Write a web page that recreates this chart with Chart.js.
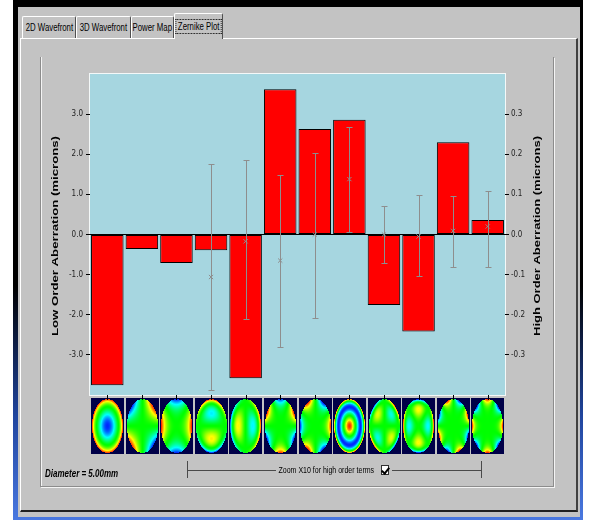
<!DOCTYPE html>
<html><head><meta charset="utf-8">
<script src="https://cdn.jsdelivr.net/npm/chart.js@4.4.1/dist/chart.umd.min.js"></script>
<style>
html,body{margin:0;padding:0;background:#fff;width:592px;height:523px;overflow:hidden;font-family:Arial,"Liberation Sans",sans-serif;}
.abs{position:absolute;box-sizing:border-box;}
#frame{left:13px;top:0;width:570px;height:520px;background:linear-gradient(#000 0%,#000 55%,#20459e 80%,#4a78e0 100%);}
#win{left:18px;top:7px;width:562px;height:510px;background:#c3c3c3;}
#panel{left:20px;top:38px;width:558px;height:474px;background:#c3c3c3;border-top:1px solid #fff;border-left:1px solid #fff;border-right:2px solid #404040;border-bottom:2px solid #202020;}
#group{left:40px;top:57px;width:514px;height:430px;border-left:1px solid #8c8c8c;border-right:1px solid #8c8c8c;border-bottom:1px solid #8c8c8c;box-shadow:1px 1px 0 #f4f4f4, inset 1px 0 0 #f4f4f4;}
.tab{top:16px;height:22px;background:#c3c3c3;border-top:1px solid #fff;border-left:1px solid #fff;border-right:1px solid #505050;border-radius:2px 2px 0 0;display:flex;justify-content:center;align-items:center;font-size:10px;color:#000;}
.tab span{display:inline-block;transform:scaleX(.78);white-space:nowrap;}
#sel{top:13px;height:26px;z-index:3;}
#sel span{outline:1px dotted #000;padding:1px 2px;}
.txt{z-index:6;white-space:nowrap;}
#diam{left:45px;top:468px;font:italic bold 10px Arial,"Liberation Sans",sans-serif;line-height:12px;transform:scaleX(.8);transform-origin:left center;}
#zoomtxt{left:226px;top:464px;width:200px;height:12px;display:flex;justify-content:center;align-items:center;font-size:9px;}
#zoomtxt span{display:inline-block;transform:scaleX(.78);}
.hl{height:1px;background:#4a4a4a;top:470px;z-index:6;}
.vl{width:1px;background:#4a4a4a;top:461px;height:17px;z-index:6;}
#chk{left:381px;top:465px;width:8px;height:10px;background:#fff;border:1px solid #303030;z-index:6;}
#chk i{position:absolute;left:1px;top:0px;width:3px;height:6px;border-right:2px solid #000;border-bottom:2px solid #000;transform:rotate(40deg);}
canvas{position:absolute;left:0;top:0;z-index:5;}
</style></head>
<body>
<div id="frame" class="abs"></div>
<div id="win" class="abs"></div>
<div id="panel" class="abs"></div>
<div id="group" class="abs"></div>
<div class="abs tab" style="left:22px;width:54px"><span>2D Wavefront</span></div>
<div class="abs tab" style="left:76px;width:55px"><span>3D Wavefront</span></div>
<div class="abs tab" style="left:131px;width:43px"><span>Power Map</span></div>
<div class="abs tab" id="sel" style="left:174px;width:49px"><span>Zernike Plot</span></div>
<div id="diam" class="abs txt">Diameter = 5.00mm</div>
<div id="zoomtxt" class="abs txt"><span>Zoom X10 for high order terms</span></div>
<div class="abs hl" style="left:187px;width:89px"></div>
<div class="abs hl" style="left:392px;width:90px"></div>
<div class="abs vl" style="left:187px"></div>
<div class="abs vl" style="left:481px"></div>
<div id="chk" class="abs"><i></i></div>
<canvas id="c" width="592" height="523"></canvas>
<script>
// ---- data ----
const categories = ['Z(2,0)','Z(2,-2)','Z(2,2)','Z(3,-1)','Z(3,1)','Z(3,-3)','Z(3,3)','Z(4,0)','Z(4,-2)','Z(4,2)','Z(4,-4)','Z(4,4)'];
const radialOrder = [2,2,2,3,3,3,3,4,4,4,4,4];
const azimuthalFreq = [0,-2,2,-1,1,-3,3,0,-2,2,-4,4];
const aberrationValues = [-3.76,-0.36,-0.71,-0.39,-3.58,3.62,2.63,2.86,-1.76,-2.42,2.30,0.36];
const highOrderMean = [null,null,null,-0.106,-0.017,-0.065,0.0,0.138,0.0,-0.005,0.009,0.02];
const highOrderLow  = [null,null,null,-0.388,-0.211,-0.281,-0.208,0.005,-0.071,-0.104,-0.081,-0.081];
const highOrderHigh = [null,null,null,0.175,0.186,0.149,0.202,0.269,0.072,0.099,0.096,0.109];
const lowTickValues = [-3,-2,-1,0,1,2,3];
const lowTickLabels = ['-3.0','-2.0','-1.0','0.0','1.0','2.0','3.0'];
const highTickValues = [-0.3,-0.2,-0.1,0,0.1,0.2,0.3];
const highTickLabels = ['-0.3','-0.2','-0.1','0.0','0.1','0.2','0.3'];
const leftTitle = 'Low Order Aberration (microns)';
const rightTitle = 'High Order Aberration (microns)';

// ---- helpers ----
function fact(n){let f=1;for(let i=2;i<=n;i++)f*=i;return f;}
function zernike(n,m,r,th){
  const am=Math.abs(m);let R=0;
  for(let k=0;k<=(n-am)/2;k++){
    R+=(k%2?-1:1)*fact(n-k)/(fact(k)*fact((n+am)/2-k)*fact((n-am)/2-k))*Math.pow(r,n-2*k);
  }
  return R*(m>=0?Math.cos(am*th):Math.sin(am*th));
}
function rainbow(t){
  t=Math.max(0,Math.min(1,t));let r,g,b;
  if(t<0.25){r=0;g=t/0.25;b=1;}
  else if(t<0.5){r=0;g=1;b=1-(t-0.25)/0.25;}
  else if(t<0.75){r=(t-0.5)/0.25;g=1;b=0;}
  else{r=1;g=1-(t-0.75)/0.25;b=0;}
  return [r*255,g*255,b*255];
}
function makeThumb(n,m,w,h){
  const cv=document.createElement('canvas');cv.width=w;cv.height=h;
  const c=cv.getContext('2d');const img=c.createImageData(w,h);
  const ex=(w-2)/2, ey=(h-2)/2, cx=w/2, cy=h/2;
  const vals=new Array(w*h).fill(null);let mn=Infinity,mx=-Infinity;
  for(let py=0;py<h;py++)for(let px=0;px<w;px++){
    const u=(px+0.5-cx)/ex, v=-(py+0.5-cy)/ey; const rr=Math.sqrt(u*u+v*v);
    if(rr<=1){const z=zernike(n,m,rr,Math.atan2(v,u));vals[py*w+px]=z;if(z<mn)mn=z;if(z>mx)mx=z;}
  }
  const mid=(mx+mn)/2, half=(mx-mn)/2||1;
  for(let i=0;i<w*h;i++){
    let col;
    if(vals[i]===null) col=[0,0,72];
    else{
      const s=(vals[i]-mid)/half;
      col=rainbow(0.5+0.46*Math.sign(s)*Math.pow(Math.abs(s),1.4));
    }
    img.data[i*4]=col[0];img.data[i*4+1]=col[1];img.data[i*4+2]=col[2];img.data[i*4+3]=255;
  }
  c.putImageData(img,0,0);return cv;
}
function drawRotTitle(ctx,text,cx,cy,len){
  ctx.save();ctx.font='bold 9px Arial, "Liberation Sans", sans-serif';
  const w=ctx.measureText(text).width;
  ctx.translate(cx,cy);ctx.rotate(-Math.PI/2);ctx.scale(len/w,1);
  ctx.textAlign='center';ctx.textBaseline='middle';ctx.fillStyle='#000';
  ctx.fillText(text,0,0);ctx.restore();
}

const panelPlugin={
  id:'panel',
  beforeDraw(chart){
    const {ctx,chartArea:a}=chart;ctx.save();
    ctx.fillStyle='#a6d6e0';ctx.fillRect(a.left,a.top,a.right-a.left,a.bottom-a.top);
    ctx.strokeStyle='#f4f8f8';ctx.lineWidth=1;
    ctx.strokeRect(a.left-0.5,a.top-0.5,a.right-a.left+1,a.bottom-a.top+1);
    ctx.restore();
  },
  afterDatasetsDraw(chart){
    const {ctx}=chart;const ys=chart.scales.y2;const xs=chart.scales.x;
    ctx.save();ctx.strokeStyle='#8e8e8e';ctx.lineWidth=1;
    highOrderMean.forEach((mv,i)=>{
      if(highOrderLow[i]===null)return;
      const x=Math.round(xs.getPixelForValue(i))+0.5;
      const y1=Math.round(ys.getPixelForValue(highOrderHigh[i]))+0.5;
      const y2=Math.round(ys.getPixelForValue(highOrderLow[i]))+0.5;
      ctx.beginPath();ctx.moveTo(x,y1);ctx.lineTo(x,y2);
      ctx.moveTo(x-3,y1);ctx.lineTo(x+3,y1);ctx.moveTo(x-3,y2);ctx.lineTo(x+3,y2);ctx.stroke();
    });
    ctx.restore();
  },
  afterDraw(chart){
    const {ctx,chartArea:a}=chart;const meta=chart.getDatasetMeta(0);
    ctx.save();
    meta.data.forEach((bar,i)=>{
      const x0=Math.round(bar.x-bar.width/2), w=Math.round(bar.width);
      const y0=Math.round(a.bottom+3), h=56;
      ctx.drawImage(makeThumb(radialOrder[i],azimuthalFreq[i],w,h),x0,y0);
      ctx.fillStyle='#000';ctx.fillRect(Math.round(bar.x),Math.round(a.bottom),1,5);
    });
    ctx.restore();
    drawRotTitle(ctx,leftTitle,56,236,200);
    drawRotTitle(ctx,rightTitle,538,236,200);
  }
};

const tickFont={family:"'Liberation Sans Narrow','DejaVu Sans Condensed',Arial,sans-serif",size:8};

new Chart(document.getElementById('c'),{
  data:{
    labels:categories,
    datasets:[
      {type:'bar',data:aberrationValues,yAxisID:'y',backgroundColor:'#ff0000',borderColor:'#000',borderWidth:1,borderSkipped:false,barPercentage:0.94,categoryPercentage:1,order:2},
      {type:'line',data:highOrderMean,yAxisID:'y2',showLine:false,pointStyle:'crossRot',pointRadius:3,pointBorderColor:'#8e8e8e',pointBorderWidth:1,pointBackgroundColor:'rgba(0,0,0,0)',order:1}
    ]
  },
  options:{
    responsive:false,animation:false,devicePixelRatio:1,
    layout:{padding:{left:40,right:37,top:74,bottom:128}},
    plugins:{legend:{display:false},tooltip:{enabled:false}},
    scales:{
      x:{display:false,offset:true},
      y:{position:'left',min:-4,max:4,
        afterBuildTicks:s=>{s.ticks=lowTickValues.map(v=>({value:v}));},
        afterFit:s=>{s.width=50;},
        ticks:{callback:(v,i)=>lowTickLabels[i],font:tickFont,color:'#222',padding:3},
        grid:{drawOnChartArea:true,color:c=>(c.tick&&c.tick.value===0)?'#000':'rgba(0,0,0,0)',tickColor:'#000',tickLength:4,lineWidth:1},
        border:{display:false}},
      y2:{position:'right',min:-0.4,max:0.4,
        afterBuildTicks:s=>{s.ticks=highTickValues.map(v=>({value:v}));},
        afterFit:s=>{s.width=50;},
        ticks:{callback:(v,i)=>highTickLabels[i],font:tickFont,color:'#222',padding:2},
        grid:{drawOnChartArea:false,tickColor:'#000',tickLength:4},
        border:{display:false}}
    }
  },
  plugins:[panelPlugin]
});
</script>
</body></html>
